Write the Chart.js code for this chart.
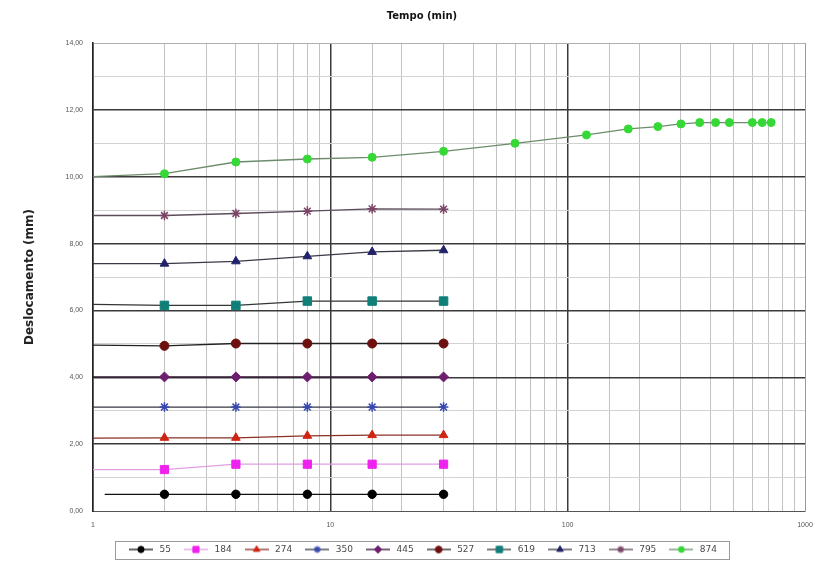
<!DOCTYPE html>
<html>
<head>
<meta charset="utf-8">
<script src="https://cdn.jsdelivr.net/npm/chart.js@4.4.1/dist/chart.umd.min.js"></script>
<style>
  html, body { margin: 0; padding: 0; background: #ffffff; }
  #wrap { width: 829px; height: 564px; }
</style>
</head>
<body>
<div id="wrap"><canvas id="grafico" width="829" height="564"></canvas></div>
<script>
// Tempos de leitura (min)
const tempos = [1, 2, 4, 8, 15, 30];
const tempos55 = [1.12, 2, 4, 8, 15, 30];
const tempos874 = [1, 2, 4, 8, 15, 30, 60, 120, 180, 240, 300, 360, 420, 480, 600, 660, 720];

// Estágios de carga (legenda)
const estagios = ['55', '184', '274', '350', '445', '527', '619', '713', '795', '874'];

// Deslocamentos (mm) por estágio
const desl55  = [0.50, 0.50, 0.50, 0.50, 0.50, 0.50];
const desl184 = [1.24, 1.24, 1.40, 1.40, 1.40, 1.40];
const desl274 = [2.18, 2.19, 2.19, 2.25, 2.27, 2.27];
const desl350 = [3.11, 3.11, 3.11, 3.11, 3.11, 3.11];
const desl445 = [4.01, 4.01, 4.01, 4.01, 4.01, 4.01];
const desl527 = [4.96, 4.94, 5.01, 5.01, 5.01, 5.01];
const desl619 = [6.18, 6.15, 6.15, 6.28, 6.28, 6.28];
const desl713 = [7.40, 7.40, 7.47, 7.62, 7.75, 7.80];
const desl795 = [8.84, 8.84, 8.90, 8.97, 9.04, 9.03];
const desl874 = [10.00, 10.09, 10.44, 10.53, 10.58, 10.76, 11.00, 11.25, 11.43, 11.50, 11.58, 11.62, 11.62, 11.62, 11.62, 11.62, 11.62];

// Limites dos eixos
const yMin = 0, yMax = 14;
const xMin = 1, xMax = 1000;

const seriesX = [tempos55, tempos, tempos, tempos, tempos, tempos, tempos, tempos, tempos, tempos874];
const seriesY = [desl55, desl184, desl274, desl350, desl445, desl527, desl619, desl713, desl795, desl874];

// Aparência de cada série: cor da linha, cor do marcador, forma, raio, espessura do contorno
const estilos = [
  { linha: '#111111', marca: '#000000', forma: 'circle',   raio: 4.2, borda: 1 },
  { linha: '#e29ee2', marca: '#ee22ee', forma: 'rect',     raio: 5.8, borda: 1 },
  { linha: '#8c3024', marca: '#d02412', forma: 'triangle', raio: 5.0, borda: 1 },
  { linha: '#343844', marca: '#3848b0', forma: 'star',     raio: 4.8, borda: 1.5 },
  { linha: '#2e0e2e', marca: '#6e1e6e', forma: 'rectRot',  raio: 5.0, borda: 1 },
  { linha: '#222222', marca: '#6e1010', forma: 'circle',   raio: 4.5, borda: 1 },
  { linha: '#333636', marca: '#0f7f78', forma: 'rect',     raio: 6.0, borda: 1 },
  { linha: '#3a3a46', marca: '#22226a', forma: 'triangle', raio: 5.0, borda: 1 },
  { linha: '#5c4c5a', marca: '#7a4466', forma: 'star',     raio: 4.8, borda: 1.5 },
  { linha: '#6c8c6c', marca: '#35d835', forma: 'circle',   raio: 4.0, borda: 1 }
];

const datasets = estagios.map((nome, i) => {
  const e = estilos[i];
  return {
    label: nome,
    data: seriesX[i].map((t, k) => ({ x: t, y: seriesY[i][k] })),
    borderColor: e.linha,
    borderWidth: 1.3,
    backgroundColor: e.marca,
    pointBackgroundColor: e.marca,
    pointBorderColor: e.marca,
    pointBorderWidth: e.borda,
    pointStyle: e.forma,
    pointRadius: ctx => (ctx.dataIndex === 0 ? 0 : e.raio),
    pointHoverRadius: ctx => (ctx.dataIndex === 0 ? 0 : e.raio),
    tension: 0,
    fill: false,
    clip: false
  };
});

// Ícone da legenda: traço da linha com o marcador ao centro
function iconeLegenda(e) {
  const c = document.createElement('canvas');
  c.width = 24; c.height = 10;
  const g = c.getContext('2d');
  g.strokeStyle = e.linha;
  g.lineWidth = 1.3;
  g.beginPath(); g.moveTo(0, 5); g.lineTo(24, 5); g.stroke();
  g.fillStyle = e.marca;
  g.strokeStyle = e.marca;
  g.lineWidth = e.borda;
  Chart.helpers.drawPoint(g, { pointStyle: e.forma, radius: e.raio * 0.75, rotation: 0, borderWidth: e.borda }, 12, 5);
  return c;
}
const icones = estilos.map(iconeLegenda);

const isDecada = v => Math.abs(Math.log10(v) - Math.round(Math.log10(v))) < 1e-9;

// Moldura em volta dos itens da legenda
const molduraLegenda = {
  id: 'molduraLegenda',
  afterDraw(chart) {
    const lg = chart.legend;
    if (!lg || !lg.legendHitBoxes || !lg.legendHitBoxes.length) return;
    const hb = lg.legendHitBoxes;
    const esq = Math.min(...hb.map(b => b.left)) - 12;
    const dir = Math.max(...hb.map(b => b.left + b.width)) + 12;
    const cy = hb[0].top + hb[0].height / 2;
    const ctx = chart.ctx;
    ctx.save();
    ctx.strokeStyle = '#9a9a9a';
    ctx.lineWidth = 1;
    ctx.strokeRect(Math.round(esq) + 0.5, Math.round(cy - 9) + 0.5, Math.round(dir - esq), 18);
    ctx.restore();
  }
};

new Chart(document.getElementById('grafico'), {
  type: 'line',
  data: { datasets },
  options: {
    responsive: false,
    animation: false,
    events: [],
    layout: { padding: { left: 39, right: 24, top: 0, bottom: 0 } },
    scales: {
      x: {
        type: 'logarithmic',
        min: xMin,
        max: xMax,
        afterFit(scale) { scale.height = 23; scale.paddingLeft = 0; scale.paddingRight = 0; },
        border: { display: true, color: '#555555', width: 1 },
        grid: {
          drawTicks: false,
          color: ctx => {
            const v = ctx.tick && ctx.tick.value;
            if (v === xMax) return '#9a9a9a';
            if (v !== undefined && isDecada(v)) return '#3a3a3a';
            return '#c2c2c2';
          },
          lineWidth: ctx => {
            const v = ctx.tick && ctx.tick.value;
            return (v !== undefined && isDecada(v) && v !== xMax) ? 1.5 : 1;
          }
        },
        ticks: {
          autoSkip: false,
          maxRotation: 0,
          padding: 10,
          color: '#555555',
          font: { family: 'Liberation Sans', size: 7 },
          callback: v => (isDecada(v) ? String(Math.round(v)) : '')
        }
      },
      y: {
        min: yMin,
        max: yMax,
        afterFit(scale) { scale.width = 54; },
        border: { display: true, color: '#222222', width: 1.5 },
        grid: {
          drawTicks: false,
          color: ctx => {
            const v = ctx.tick && ctx.tick.value;
            if (v === yMax) return '#b0b0b0';
            if (v === yMin) return '#555555';
            return v % 2 === 0 ? '#3a3a3a' : '#d2d2d2';
          },
          lineWidth: ctx => {
            const v = ctx.tick && ctx.tick.value;
            return (v % 2 === 0 && v !== yMax && v !== yMin) ? 1.5 : 1;
          }
        },
        ticks: {
          stepSize: 1,
          autoSkip: false,
          padding: 10,
          color: '#555555',
          font: { family: 'Liberation Sans', size: 7 },
          callback: v => (v % 2 === 0 ? v.toFixed(2).replace('.', ',') : '')
        },
        title: {
          display: true,
          text: 'Deslocamento (mm)',
          color: '#222222',
          font: { family: 'DejaVu Sans', size: 12, weight: 'bold' },
          padding: { top: -16, bottom: 0 }
        }
      }
    },
    plugins: {
      title: {
        display: true,
        text: 'Tempo (min)',
        color: '#111111',
        font: { family: 'DejaVu Sans', size: 10, weight: 'bold' },
        padding: { top: 10, bottom: 21 }
      },
      legend: {
        display: true,
        position: 'bottom',
        labels: {
          usePointStyle: true,
          pointStyleWidth: 28,
          padding: 11,
          color: '#4a4a4a',
          font: { family: 'DejaVu Sans', size: 9 },
          generateLabels(chart) {
            return chart.data.datasets.map((ds, i) => ({
              text: ds.label,
              datasetIndex: i,
              pointStyle: icones[i],
              fillStyle: 'rgba(0,0,0,0)',
              strokeStyle: 'rgba(0,0,0,0)',
              lineWidth: 0,
              hidden: false,
              fontColor: '#4a4a4a'
            }));
          }
        }
      },
      tooltip: { enabled: false }
    }
  },
  plugins: [molduraLegenda]
});
</script>
</body>
</html>
